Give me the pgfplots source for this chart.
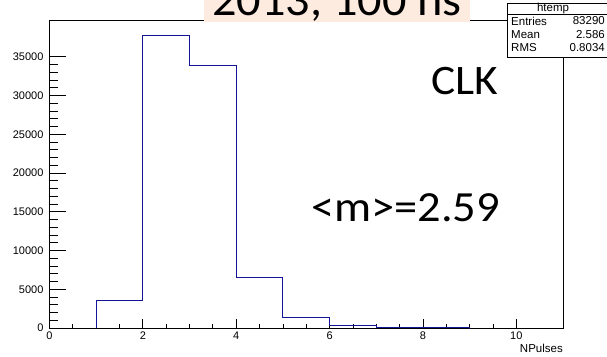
\documentclass[border=0pt]{standalone}
\usepackage{pgfplots}
\pgfplotsset{compat=1.18}
\usepackage{fontspec}
\setmainfont{Liberation Sans}
\newfontfamily\calibri{Carlito}
\definecolor{histblue}{RGB}{20,20,150}
\definecolor{peach}{RGB}{252,235,222}

\begin{document}
\begin{tikzpicture}[x=1pt,y=1pt]
\useasboundingbox (0,0) rectangle (607,356);
\begin{scope}
\clip (0,0) rectangle (607,356);

% frame, x ticks and the histogram
\begin{axis}[
  at={(49.5pt,28pt)}, anchor=south west,
  width=513.5pt, height=308pt, scale only axis,
  xmin=0, xmax=11, ymin=0, ymax=39750,
  xtick={0,2,4,6,8,10}, minor x tick num=3,
  ytick=\empty,
  tick align=inside, xtick pos=bottom,
  major tick length=9pt, minor tick length=4.5pt,
  axis line style={line width=0.8pt, black},
  tick style={line width=0.8pt, black},
  xticklabel style={font=\fontsize{11}{13}\selectfont, yshift=-0.5pt},
  scaled ticks=false,
  /pgf/number format/1000 sep={},
  /pgf/number format/assume math mode=true,
]
\addplot[histblue, line width=0.9pt] coordinates {
  (1,0) (1,3550) (2,3550) (2,37800) (3,37800) (3,33850)
  (4,33850) (4,6500) (5,6500) (5,1400) (6,1400) (6,300)
  (7,300) (7,90) (8,90) (8,40) (9,40) (9,0)
};
\end{axis}

% y ticks, drawn longer
\begin{axis}[
  at={(49.5pt,28pt)}, anchor=south west,
  width=513.5pt, height=308pt, scale only axis,
  xmin=0, xmax=11, ymin=0, ymax=39750,
  xtick=\empty,
  ytick={0,5000,10000,15000,20000,25000,30000,35000}, minor y tick num=4,
  tick align=inside, ytick pos=left,
  major tick length=16pt, minor tick length=8pt,
  axis line style={draw=none},
  tick style={line width=0.8pt, black},
  yticklabel style={font=\fontsize{11}{13}\selectfont, xshift=-2.5pt},
  scaled ticks=false,
  /pgf/number format/1000 sep={},
  /pgf/number format/assume math mode=true,
]
\end{axis}

\node[anchor=east, inner sep=0pt, font=\fontsize{11.5}{13}\selectfont] at (563,8) {NPulses};

% title strip across the top
\fill[peach] (204,334) rectangle (470,362);
\node[anchor=base west, inner sep=0pt, xscale=1.05, font=\calibri\fontsize{46}{50}\selectfont] at (212,340) {2013, 100 ns};

% statistics box
\draw[line width=0.8pt, fill=white] (507,299) rectangle (612,353);
\draw[line width=0.8pt] (507,342) -- (612,342);
\begin{scope}[font=\fontsize{11.5}{13}\selectfont, inner sep=0pt]
\node[anchor=center] at (553,347.5) {htemp};
\node[anchor=west] at (511,335) {Entries};
\node[anchor=east] at (605,335) {83290};
\node[anchor=west] at (511,321.5) {Mean};
\node[anchor=east] at (605,321.5) {2.586};
\node[anchor=west] at (511,308) {RMS};
\node[anchor=east] at (605,308) {0.8034};
\end{scope}

% annotations
\node[anchor=base west, inner sep=0pt, xscale=1.08, font=\calibri\fontsize{42}{46}\selectfont] at (431,261) {CLK};
\node[anchor=base west, inner sep=0pt, xscale=1.08, font=\calibri\fontsize{43}{46}\selectfont] at (311,134) {<m>=2.59};
\end{scope}
\end{tikzpicture}
\end{document}
